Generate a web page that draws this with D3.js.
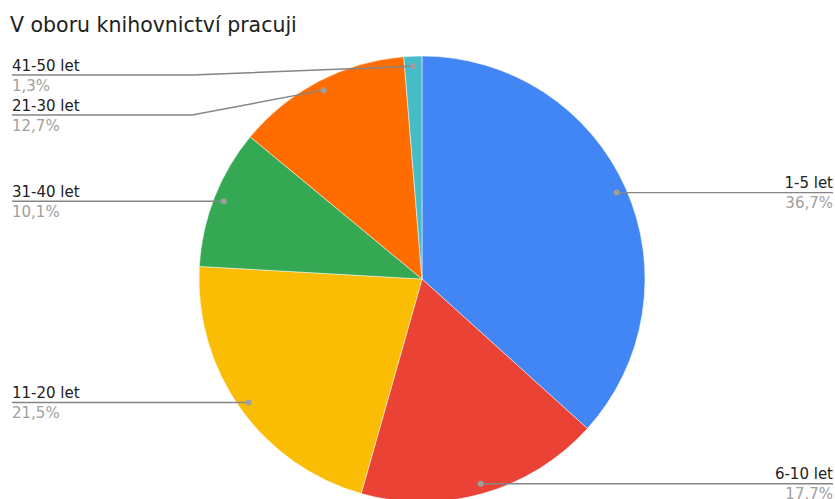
<!DOCTYPE html>
<html>
<head>
<meta charset="utf-8">
<script src="https://cdn.jsdelivr.net/npm/d3@7"></script>
<style>
  body { margin: 0; background: #fff; }
  text { font-family: "DejaVu Sans", Verdana, sans-serif; }
</style>
</head>
<body>
<svg id="chart" width="835" height="499"></svg>
<script>
var title = "V oboru knihovnictví pracuji";
var categories = ["1-5 let", "6-10 let", "11-20 let", "31-40 let", "21-30 let", "41-50 let"];
var values = [36.7, 17.7, 21.5, 10.1, 12.7, 1.3];
var percentLabels = ["36,7%", "17,7%", "21,5%", "10,1%", "12,7%", "1,3%"];
var colors = ["#4285f4", "#ea4335", "#fbbc04", "#34a853", "#ff6d01", "#46bdc6"];

var svg = d3.select("#chart");
var width = 835, height = 499;
var cx = 422, cy = 279, radius = 223;

svg.append("text")
    .attr("x", 10)
    .attr("y", 32)
    .style("font-size", "20.5px")
    .attr("fill", "#212121")
    .text(title);

var data = categories.map(function(c, i) {
    return {name: c, value: values[i], pct: percentLabels[i], color: colors[i]};
});

var pie = d3.pie().sort(null).value(function(d) { return d.value; });
var arcs = pie(data);

var arc = d3.arc().innerRadius(0).outerRadius(radius);
var dotArc = d3.arc().innerRadius(radius * 0.955).outerRadius(radius * 0.955);

var g = svg.append("g").attr("transform", "translate(" + cx + "," + cy + ")");

g.selectAll("path.slice")
    .data(arcs)
    .enter().append("path")
    .attr("class", "slice")
    .attr("d", arc)
    .attr("fill", function(d) { return d.data.color; })
    .attr("stroke", "#fff")
    .attr("stroke-width", 0.5);

// label positions with simple collision handling
arcs.forEach(function(d) {
    var p = dotArc.centroid(d);
    d.dot = [p[0] + cx, p[1] + cy];
    d.side = p[0] < 0 ? "left" : "right";
    d.lineY = d.dot[1];
});

var minY = 75, gap = 40;
["left", "right"].forEach(function(side) {
    var list = arcs.filter(function(d) { return d.side === side; })
        .sort(function(a, b) { return a.dot[1] - b.dot[1]; });
    var prev = minY - gap;
    list.forEach(function(d) {
        d.lineY = Math.max(d.lineY, prev + gap);
        prev = d.lineY;
    });
});

var leftX = 12, rightX = 833, elbowLeft = 192, elbowRight = 652;

var labels = svg.append("g");

arcs.forEach(function(d) {
    var left = d.side === "left";
    var edgeX = left ? leftX : rightX;
    var elbowX = left ? elbowLeft : elbowRight;
    var pts;
    if (Math.abs(d.lineY - d.dot[1]) > 0.5) {
        pts = [d.dot, [elbowX, d.lineY], [edgeX, d.lineY]];
    } else {
        pts = [d.dot, [edgeX, d.lineY]];
    }
    labels.append("path")
        .attr("d", d3.line()(pts))
        .attr("fill", "none")
        .attr("stroke", "#858585")
        .attr("stroke-width", 1.4);

    labels.append("circle")
        .attr("cx", d.dot[0])
        .attr("cy", d.dot[1])
        .attr("r", 3)
        .attr("fill", "#9e9e9e");

    labels.append("text")
        .attr("x", edgeX)
        .attr("y", d.lineY - 4.5)
        .attr("text-anchor", left ? "start" : "end")
        .style("font-size", "15px")
        .attr("fill", "#222222")
        .text(d.data.name);

    labels.append("text")
        .attr("x", edgeX)
        .attr("y", d.lineY + 15.5)
        .attr("text-anchor", left ? "start" : "end")
        .style("font-size", "15px")
        .attr("fill", "#a0a0a0")
        .text(d.data.pct);
});
</script>
</body>
</html>
